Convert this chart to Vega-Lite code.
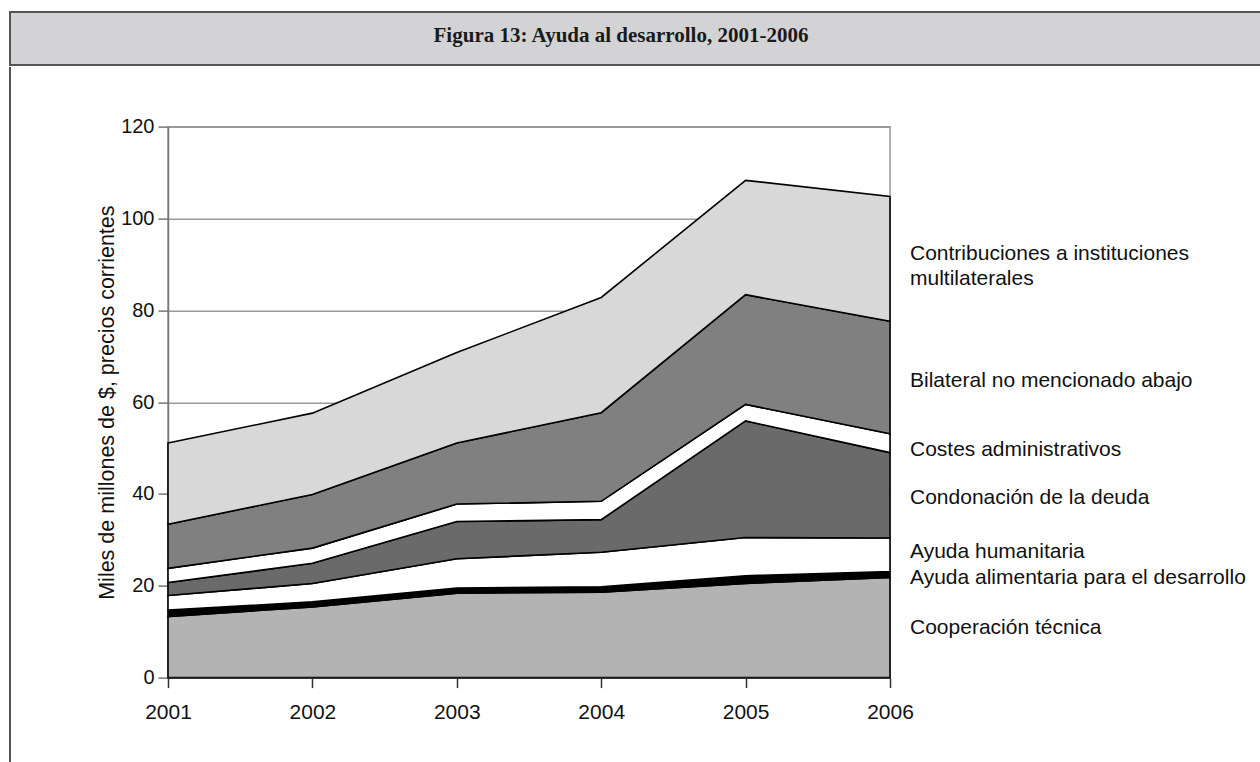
{
  "$schema": "https://vega.github.io/schema/vega-lite/v6.json",
  "background": "white",
  "padding": {"left": 9, "top": 11, "right": 0, "bottom": 0},
  "spacing": 0,
  "config": {"view": {"stroke": null}, "font": "Liberation Sans"},
  "datasets": {
    "aid": [
      {"year": 2001, "series": "Cooperación técnica", "rank": 1, "value": 13.3},
      {"year": 2002, "series": "Cooperación técnica", "rank": 1, "value": 15.4},
      {"year": 2003, "series": "Cooperación técnica", "rank": 1, "value": 18.4},
      {"year": 2004, "series": "Cooperación técnica", "rank": 1, "value": 18.6},
      {"year": 2005, "series": "Cooperación técnica", "rank": 1, "value": 20.5},
      {"year": 2006, "series": "Cooperación técnica", "rank": 1, "value": 21.8},
      {"year": 2001, "series": "Ayuda alimentaria para el desarrollo", "rank": 2, "value": 1.4},
      {"year": 2002, "series": "Ayuda alimentaria para el desarrollo", "rank": 2, "value": 1.1},
      {"year": 2003, "series": "Ayuda alimentaria para el desarrollo", "rank": 2, "value": 1.1},
      {"year": 2004, "series": "Ayuda alimentaria para el desarrollo", "rank": 2, "value": 1.2},
      {"year": 2005, "series": "Ayuda alimentaria para el desarrollo", "rank": 2, "value": 1.7},
      {"year": 2006, "series": "Ayuda alimentaria para el desarrollo", "rank": 2, "value": 1.3},
      {"year": 2001, "series": "Ayuda humanitaria", "rank": 3, "value": 3.2},
      {"year": 2002, "series": "Ayuda humanitaria", "rank": 3, "value": 4.0},
      {"year": 2003, "series": "Ayuda humanitaria", "rank": 3, "value": 6.4},
      {"year": 2004, "series": "Ayuda humanitaria", "rank": 3, "value": 7.5},
      {"year": 2005, "series": "Ayuda humanitaria", "rank": 3, "value": 8.3},
      {"year": 2006, "series": "Ayuda humanitaria", "rank": 3, "value": 7.3},
      {"year": 2001, "series": "Condonación de la deuda", "rank": 4, "value": 2.8},
      {"year": 2002, "series": "Condonación de la deuda", "rank": 4, "value": 4.4},
      {"year": 2003, "series": "Condonación de la deuda", "rank": 4, "value": 8.1},
      {"year": 2004, "series": "Condonación de la deuda", "rank": 4, "value": 7.1},
      {"year": 2005, "series": "Condonación de la deuda", "rank": 4, "value": 25.4},
      {"year": 2006, "series": "Condonación de la deuda", "rank": 4, "value": 18.6},
      {"year": 2001, "series": "Costes administrativos", "rank": 5, "value": 3.1},
      {"year": 2002, "series": "Costes administrativos", "rank": 5, "value": 3.3},
      {"year": 2003, "series": "Costes administrativos", "rank": 5, "value": 3.8},
      {"year": 2004, "series": "Costes administrativos", "rank": 5, "value": 4.0},
      {"year": 2005, "series": "Costes administrativos", "rank": 5, "value": 3.6},
      {"year": 2006, "series": "Costes administrativos", "rank": 5, "value": 4.1},
      {"year": 2001, "series": "Bilateral no mencionado abajo", "rank": 6, "value": 9.6},
      {"year": 2002, "series": "Bilateral no mencionado abajo", "rank": 6, "value": 11.7},
      {"year": 2003, "series": "Bilateral no mencionado abajo", "rank": 6, "value": 13.3},
      {"year": 2004, "series": "Bilateral no mencionado abajo", "rank": 6, "value": 19.3},
      {"year": 2005, "series": "Bilateral no mencionado abajo", "rank": 6, "value": 23.9},
      {"year": 2006, "series": "Bilateral no mencionado abajo", "rank": 6, "value": 24.5},
      {"year": 2001, "series": "Contribuciones a instituciones\nmultilaterales", "rank": 7, "value": 17.7},
      {"year": 2002, "series": "Contribuciones a instituciones\nmultilaterales", "rank": 7, "value": 17.7},
      {"year": 2003, "series": "Contribuciones a instituciones\nmultilaterales", "rank": 7, "value": 19.7},
      {"year": 2004, "series": "Contribuciones a instituciones\nmultilaterales", "rank": 7, "value": 25.1},
      {"year": 2005, "series": "Contribuciones a instituciones\nmultilaterales", "rank": 7, "value": 24.9},
      {"year": 2006, "series": "Contribuciones a instituciones\nmultilaterales", "rank": 7, "value": 27.2}
    ]
  },
  "vconcat": [
    {
      "width": 1262,
      "height": 53,
      "view": {"fill": "#d3d3d5", "stroke": "#555555", "strokeWidth": 2},
      "data": {"values": [{"t": "Figura 13: Ayuda al desarrollo, 2001-2006"}]},
      "mark": {"type": "text", "font": "Liberation Serif", "fontWeight": "bold", "fontSize": 21, "color": "#1a1a1a", "dx": -20, "dy": -3},
      "encoding": {"text": {"field": "t", "type": "nominal"}}
    },
    {
      "spacing": 0,
      "center": true,
      "hconcat": [
        {
          "width": 85,
          "height": 715,
          "data": {"values": [{"edge": 0}]},
          "mark": {"type": "rule", "color": "#555555", "strokeWidth": 2},
          "encoding": {
            "x": {"field": "edge", "type": "quantitative", "scale": {"domain": [0, 1]}, "axis": null}
          }
        },
        {
          "width": 722,
          "height": 551,
          "view": {"stroke": "#999999", "strokeWidth": 1.5},
          "data": {"name": "aid"},
          "encoding": {
            "x": {
              "field": "year", "type": "quantitative",
              "scale": {"domain": [2001, 2006], "nice": false, "zero": false},
              "axis": {
                "values": [2001, 2002, 2003, 2004, 2005, 2006], "format": "d", "title": null,
                "grid": false, "tickSize": 10, "labelPadding": 14, "labelFontSize": 21, "labelFlush": false,
                "labelColor": "#111111", "domainColor": "#333333", "tickColor": "#333333",
                "domainWidth": 1.5, "tickWidth": 1.5, "zindex": 1
              }
            }
          },
          "layer": [
            {
              "mark": {"type": "area", "stroke": "black", "strokeWidth": 1.6, "interpolate": "linear"},
              "encoding": {
                "y": {
                  "field": "value", "type": "quantitative", "stack": "zero",
                  "scale": {"domain": [0, 120], "nice": false},
                  "axis": {
                    "values": [0, 20, 40, 60, 80, 100, 120], "title": "Miles de millones de $, precios corrientes",
                    "titleFontSize": 21.5, "titleFontWeight": "normal", "titleColor": "#111111", "titlePadding": 2,
                    "grid": true, "gridColor": "#999999", "gridWidth": 1.5,
                    "tickSize": 10, "labelPadding": 4, "labelFontSize": 20, "labelColor": "#111111",
                    "domainColor": "#777777", "tickColor": "#777777", "domainWidth": 1.5, "tickWidth": 1.5
                  }
                },
                "color": {
                  "field": "series", "type": "nominal", "legend": null,
                  "scale": {
                    "domain": ["Cooperación técnica", "Ayuda alimentaria para el desarrollo", "Ayuda humanitaria", "Condonación de la deuda", "Costes administrativos", "Bilateral no mencionado abajo", "Contribuciones a instituciones\nmultilaterales"],
                    "range": ["#b3b3b3", "#000000", "#ffffff", "#6a6a6a", "#ffffff", "#808080", "#d8d8d8"]
                  }
                },
                "order": {"field": "rank", "type": "quantitative"}
              }
            },
            {
              "transform": [
                {"filter": "datum.year == 2006"},
                {"stack": "value", "groupby": ["year"], "sort": [{"field": "rank", "order": "ascending"}], "as": ["y0", "y1"]},
                {"calculate": "(datum.y0 + datum.y1) / 2", "as": "mid"},
                {"filter": "datum.rank == 1"}
              ],
              "mark": {"type": "text", "align": "left", "baseline": "middle", "dx": 20, "dy": 0, "fontSize": 21, "lineBreak": "\n", "lineHeight": 25, "color": "#111111"},
              "encoding": {
                "y": {"field": "mid", "type": "quantitative"},
                "text": {"field": "series", "type": "nominal"}
              }
            },
            {
              "transform": [
                {"filter": "datum.year == 2006"},
                {"stack": "value", "groupby": ["year"], "sort": [{"field": "rank", "order": "ascending"}], "as": ["y0", "y1"]},
                {"calculate": "(datum.y0 + datum.y1) / 2", "as": "mid"},
                {"filter": "datum.rank == 2 || datum.rank == 4 || datum.rank == 6"}
              ],
              "mark": {"type": "text", "align": "left", "baseline": "middle", "dx": 20, "dy": 3, "fontSize": 21, "lineBreak": "\n", "lineHeight": 25, "color": "#111111"},
              "encoding": {
                "y": {"field": "mid", "type": "quantitative"},
                "text": {"field": "series", "type": "nominal"}
              }
            },
            {
              "transform": [
                {"filter": "datum.year == 2006"},
                {"stack": "value", "groupby": ["year"], "sort": [{"field": "rank", "order": "ascending"}], "as": ["y0", "y1"]},
                {"calculate": "(datum.y0 + datum.y1) / 2", "as": "mid"},
                {"filter": "datum.rank == 3"}
              ],
              "mark": {"type": "text", "align": "left", "baseline": "middle", "dx": 20, "dy": -3, "fontSize": 21, "lineBreak": "\n", "lineHeight": 25, "color": "#111111"},
              "encoding": {
                "y": {"field": "mid", "type": "quantitative"},
                "text": {"field": "series", "type": "nominal"}
              }
            },
            {
              "transform": [
                {"filter": "datum.year == 2006"},
                {"stack": "value", "groupby": ["year"], "sort": [{"field": "rank", "order": "ascending"}], "as": ["y0", "y1"]},
                {"calculate": "(datum.y0 + datum.y1) / 2", "as": "mid"},
                {"filter": "datum.rank == 5"}
              ],
              "mark": {"type": "text", "align": "left", "baseline": "middle", "dx": 20, "dy": 7, "fontSize": 21, "lineBreak": "\n", "lineHeight": 25, "color": "#111111"},
              "encoding": {
                "y": {"field": "mid", "type": "quantitative"},
                "text": {"field": "series", "type": "nominal"}
              }
            },
            {
              "transform": [
                {"filter": "datum.year == 2006"},
                {"stack": "value", "groupby": ["year"], "sort": [{"field": "rank", "order": "ascending"}], "as": ["y0", "y1"]},
                {"calculate": "(datum.y0 + datum.y1) / 2", "as": "mid"},
                {"filter": "datum.rank == 7"}
              ],
              "mark": {"type": "text", "align": "left", "baseline": "middle", "dx": 20, "dy": -5, "fontSize": 21, "lineBreak": "\n", "lineHeight": 25, "color": "#111111"},
              "encoding": {
                "y": {"field": "mid", "type": "quantitative"},
                "text": {"field": "series", "type": "nominal"}
              }
            }
          ]
        }
      ]
    }
  ]
}
